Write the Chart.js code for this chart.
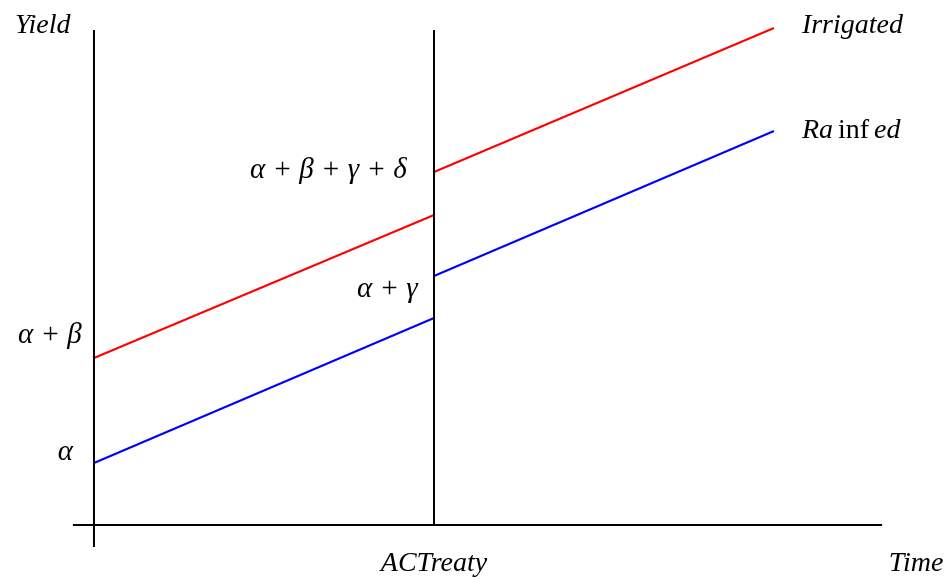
<!DOCTYPE html>
<html lang="en">
<head>
    <meta charset="UTF-8">
    <title>Yield: Irrigated vs Rainfed</title>
    <style>
        body {
            margin: 0;
            background-color: #ffffff;
        }
        #yieldChart {
            display: block;
        }
    </style>
</head>
<body>
    <canvas id="yieldChart" width="947" height="578"></canvas>

    <script src="https://cdn.jsdelivr.net/npm/chart.js"></script>
    <script>
        // Tempo (unidades arbitrárias): início, tratado, fim
        const timePoints = [0, 5, 10];
        const treatyTime = 5;

        // Rendimento (unidades arbitrárias) antes e depois do tratado
        const irrigatedBefore = [16.7, 31.0];
        const irrigatedAfter = [35.3, 49.7];
        const rainfedBefore = [6.2, 20.7];
        const rainfedAfter = [24.9, 39.4];

        // Extensão dos eixos
        const xAxisRange = [-0.31, 11.59];
        const yAxisRange = [-2.2, 49.5];
        const viewX = [-1.382, 12.544];
        const viewY = [-5.3, 52.5];

        const serif = '"Liberation Serif", "DejaVu Serif", serif';

        // Rótulos: texto, tempo, rendimento, alinhamento, tamanho
        const labels = [
            { parts: [['Yield', 'italic']], t: -1.16, y: 49.2, align: 'left', size: 28 },
            { parts: [['Irrigated', 'italic']], t: 10.41, y: 49.2, align: 'left', size: 28 },
            { parts: [['Ra', 'italic'], ['inf', 'normal'], ['ed', 'italic']], t: 10.41, y: 38.7, align: 'left', gap: 5, size: 28 },
            { parts: [['\u03b1 + \u03b2 + \u03b3 + \u03b4', 'italic']], t: 4.6, y: 34.7, align: 'right', size: 29 },
            { parts: [['\u03b1 + \u03b3', 'italic']], t: 4.76, y: 22.8, align: 'right', size: 29 },
            { parts: [['\u03b1 + \u03b2', 'italic']], t: -0.18, y: 18.2, align: 'right', size: 29 },
            { parts: [['\u03b1', 'italic']], t: -0.31, y: 6.5, align: 'right', size: 29 },
            { parts: [['ACTreaty', 'italic']], t: 5, y: -4.6, align: 'center', size: 28 },
            { parts: [['Time', 'italic']], t: 12.49, y: -4.6, align: 'right', size: 28 }
        ];

        function segment(xs, ys) {
            return xs.map((x, i) => ({ x: x, y: ys[i] }));
        }

        function lineSet(data, color) {
            return {
                data: data,
                showLine: true,
                borderColor: color,
                borderWidth: 2,
                pointRadius: 0,
                fill: false
            };
        }

        const labelPlugin = {
            id: 'labels',
            afterDatasetsDraw(chart) {
                const ctx = chart.ctx;
                const xs = chart.scales.x;
                const ys = chart.scales.y;
                ctx.save();
                ctx.fillStyle = '#000';
                ctx.textBaseline = 'alphabetic';
                labels.forEach(lab => {
                    const gap = lab.gap || 0;
                    let total = 0;
                    lab.parts.forEach(p => {
                        ctx.font = p[1] + ' ' + lab.size + 'px ' + serif;
                        total += ctx.measureText(p[0]).width;
                    });
                    total += gap * (lab.parts.length - 1);
                    let px = xs.getPixelForValue(lab.t);
                    if (lab.align === 'right') px -= total;
                    if (lab.align === 'center') px -= total / 2;
                    const py = ys.getPixelForValue(lab.y);
                    ctx.textAlign = 'left';
                    lab.parts.forEach(p => {
                        ctx.font = p[1] + ' ' + lab.size + 'px ' + serif;
                        ctx.fillText(p[0], px, py);
                        px += ctx.measureText(p[0]).width + gap;
                    });
                });
                ctx.restore();
            }
        };

        new Chart(document.getElementById('yieldChart'), {
            type: 'scatter',
            data: {
                datasets: [
                    lineSet(segment([0, 0], yAxisRange), '#000000'),
                    lineSet(segment(xAxisRange, [0, 0]), '#000000'),
                    lineSet(segment([treatyTime, treatyTime], [0, yAxisRange[1]]), '#000000'),
                    lineSet(segment(timePoints.slice(0, 2), irrigatedBefore), '#ff0000'),
                    lineSet(segment(timePoints.slice(1, 3), irrigatedAfter), '#ff0000'),
                    lineSet(segment(timePoints.slice(0, 2), rainfedBefore), '#0000ff'),
                    lineSet(segment(timePoints.slice(1, 3), rainfedAfter), '#0000ff')
                ]
            },
            options: {
                responsive: false,
                animation: false,
                layout: { padding: 0 },
                plugins: {
                    legend: { display: false },
                    tooltip: { enabled: false }
                },
                scales: {
                    x: { type: 'linear', display: false, min: viewX[0], max: viewX[1] },
                    y: { type: 'linear', display: false, min: viewY[0], max: viewY[1] }
                }
            },
            plugins: [labelPlugin]
        });
    </script>
</body>
</html>
